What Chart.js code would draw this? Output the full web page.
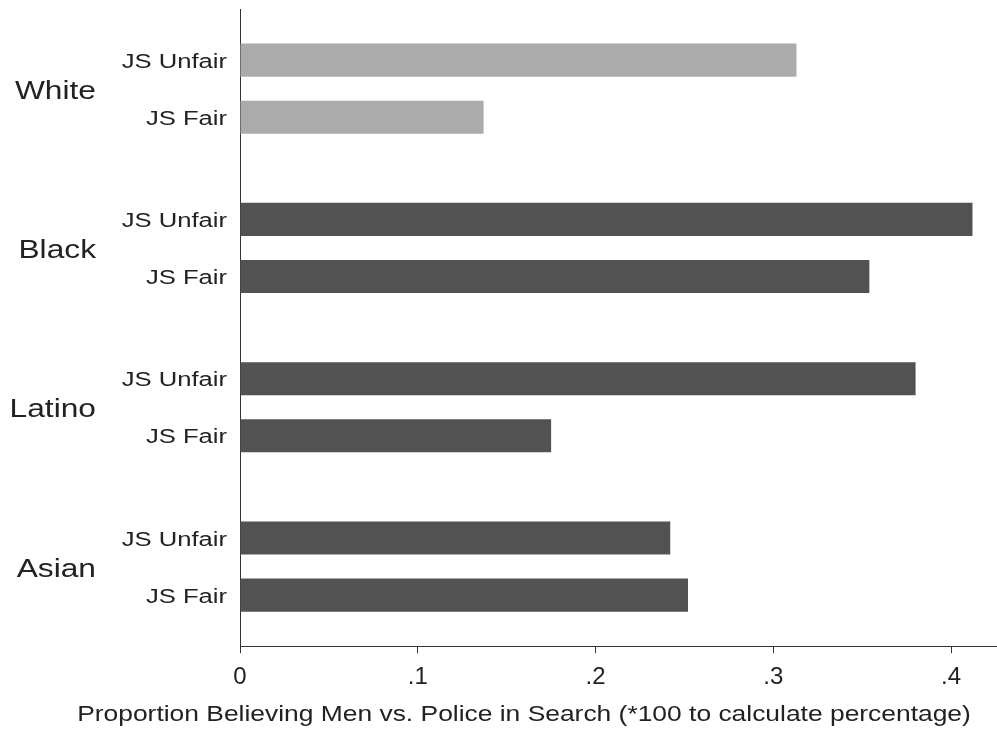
<!DOCTYPE html>
<html>
<head>
<meta charset="utf-8">
<script src="https://cdn.jsdelivr.net/npm/chart.js@4.4.1/dist/chart.umd.min.js"></script>
<style>
  html, body { margin: 0; padding: 0; background: #fff; }
  #wrap { width: 997px; height: 733px; position: relative; }
</style>
</head>
<body>
<div id="wrap"><canvas id="bars"></canvas></div>
<script>
// ----- Data -----
const groups = ["White", "Black", "Latino", "Asian"];
const seriesNames = ["JS Unfair", "JS Fair"];
const unfairVals = [0.313, 0.412, 0.380, 0.242];
const fairVals = [0.137, 0.354, 0.175, 0.252];
const xTicks = [0, 0.1, 0.2, 0.3, 0.4];
const axisTitle = "Proportion Believing Men vs. Police in Search (*100 to calculate percentage)";

// ----- Styles -----
const FONT = "'Liberation Sans', Arial, Helvetica, sans-serif";
const lightBar = "#ababab";
const darkBar = "#525252";
const groupColors = groups.map((g) => (g === "White" ? lightBar : darkBar));

// stretched text helper (source font is wide)
function wideText(ctx, text, x, y, size, sx, align, baseline) {
  ctx.save();
  ctx.font = `${size}px ${FONT}`;
  ctx.textAlign = align;
  ctx.textBaseline = baseline;
  ctx.translate(x, y);
  ctx.scale(sx, 1);
  ctx.fillText(text, 0, 0);
  ctx.restore();
}

// ----- Label plugin: bar names, group names, axis title -----
const labelPlugin = {
  id: "stataLabels",
  afterDraw(chart) {
    const { ctx, chartArea, scales: { y } } = chart;
    ctx.save();
    ctx.fillStyle = "#222";
    // bar labels
    chart.data.datasets.forEach((ds, di) => {
      chart.getDatasetMeta(di).data.forEach((bar) => {
        wideText(ctx, ds.label, chartArea.left - 13, bar.y + 2, 20, 1.28, "right", "middle");
      });
    });
    // group labels
    groups.forEach((g, i) => {
      const py = y.getPixelForValue(i);
      wideText(ctx, g, 96, py + 3, 26, 1.22, "right", "middle");
    });
    // x axis title
    wideText(ctx, axisTitle, 524, 721, 22, 1.2, "center", "alphabetic");
    ctx.restore();
  }
};

// ----- Chart -----
const chart = new Chart(document.getElementById("bars"), {
  type: "bar",
  data: {
    labels: groups,
    datasets: [
      {
        label: seriesNames[0],
        data: unfairVals,
        backgroundColor: groupColors,
        borderWidth: 0
      },
      {
        label: seriesNames[1],
        data: fairVals,
        backgroundColor: groupColors,
        borderWidth: 0
      }
    ]
  },
  options: {
    indexAxis: "y",
    animation: false,
    responsive: true,
    maintainAspectRatio: false,
    categoryPercentage: 0.717,
    barPercentage: 0.58,
    layout: { padding: { left: 240, top: 9, right: 0, bottom: 31 } },
    plugins: { legend: { display: false }, tooltip: { enabled: false } },
    scales: {
      x: {
        type: "linear",
        min: 0,
        max: 0.4258,
        afterBuildTicks: (scale) => {
          scale.ticks = xTicks.map((v) => ({ value: v }));
        },
        ticks: {
          includeBounds: false,
          color: "#222",
          padding: 10,
          font: { family: FONT, size: 24 },
          callback: (v) => (v === 0 ? "0" : String(+v.toFixed(1)).replace(/^0/, ""))
        },
        grid: {
          drawOnChartArea: false,
          drawTicks: true,
          tickLength: 7,
          color: "#333",
          lineWidth: 1
        },
        border: { display: true, color: "#333", width: 1 }
      },
      y: {
        type: "category",
        ticks: { display: false },
        grid: { drawOnChartArea: false, drawTicks: false },
        border: { display: true, color: "#333", width: 1 },
        afterFit: (scale) => { scale.width = 0; }
      }
    }
  },
  plugins: [labelPlugin]
});
</script>
</body>
</html>
